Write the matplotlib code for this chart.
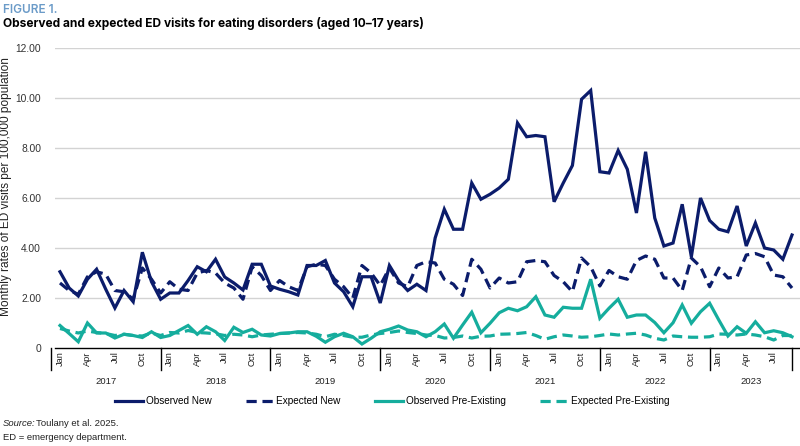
import matplotlib
matplotlib.use("Agg")
import matplotlib.pyplot as plt
import matplotlib.transforms as mtransforms
from matplotlib.lines import Line2D
import numpy as np

# monthly rates per 100,000, Jan 2017 - Sep 2023
obs_new = [3.05, 2.4, 2.08, 2.75, 3.15, 2.35, 1.6, 2.3, 1.85, 3.83, 2.65, 1.95,
           2.2, 2.2, 2.7, 3.25, 3.05, 3.55, 2.84, 2.6, 2.32, 3.35, 3.35, 2.48,
           2.35, 2.25, 2.12, 3.3, 3.3, 3.5, 2.6, 2.25, 1.65, 2.85, 2.85, 1.8,
           3.3, 2.7, 2.3, 2.55, 2.3, 4.4, 5.55, 4.75, 4.75, 6.6, 5.95, 6.15,
           6.4, 6.75, 9.0, 8.45, 8.5, 8.45, 5.85, 6.6, 7.3, 9.95, 10.3, 7.05,
           7.0, 7.9, 7.15, 5.4, 7.85, 5.2, 4.08, 4.2, 5.75, 3.65, 6.0, 5.1,
           4.75, 4.65, 5.68, 4.08, 5.0, 4.0, 3.92, 3.55, 4.52]
exp_new = [2.6, 2.3, 2.15, 2.85, 3.05, 2.95, 2.3, 2.25, 1.95, 3.2, 2.75, 2.2,
           2.65, 2.35, 2.3, 3.0, 3.1, 3.0, 2.6, 2.4, 1.95, 3.25, 2.9, 2.3,
           2.7, 2.45, 2.3, 3.25, 3.35, 3.3, 2.75, 2.45, 2.0, 3.3, 3.0, 2.5,
           3.2, 2.6, 2.45, 3.3, 3.45, 3.4, 2.75, 2.55, 2.1, 3.55, 3.15, 2.4,
           2.8, 2.6, 2.65, 3.45, 3.5, 3.45, 2.9, 2.65, 2.25, 3.6, 3.25, 2.48,
           3.1, 2.85, 2.75, 3.5, 3.68, 3.55, 2.8, 2.8, 2.3, 3.6, 3.25, 2.45,
           3.2, 2.8, 2.85, 3.72, 3.78, 3.65, 2.92, 2.85, 2.4]
obs_pre = [0.9, 0.58, 0.25, 1.0, 0.6, 0.6, 0.4, 0.55, 0.5, 0.42, 0.65, 0.42,
           0.5, 0.7, 0.9, 0.55, 0.85, 0.65, 0.3, 0.83, 0.62, 0.75, 0.52, 0.48,
           0.58, 0.6, 0.65, 0.65, 0.47, 0.23, 0.45, 0.59, 0.45, 0.16, 0.39, 0.65,
           0.75, 0.88, 0.72, 0.65, 0.45, 0.65, 0.96, 0.39, 0.92, 1.43, 0.61, 0.99,
           1.41, 1.59, 1.49, 1.65, 2.05, 1.32, 1.23, 1.63, 1.59, 1.59, 2.75, 1.19,
           1.59, 1.95, 1.23, 1.32, 1.32, 1.02, 0.61, 1.01, 1.72, 0.99, 1.45, 1.79,
           1.12, 0.48, 0.85, 0.59, 1.05, 0.61, 0.69, 0.61, 0.45]
exp_pre = [0.78, 0.68, 0.6, 0.68, 0.62, 0.58, 0.5, 0.55, 0.5, 0.48, 0.6, 0.5,
           0.62, 0.6, 0.7, 0.62, 0.6, 0.57, 0.5, 0.55, 0.52, 0.45, 0.52, 0.55,
           0.58, 0.6, 0.62, 0.6, 0.55, 0.45, 0.55, 0.5, 0.43, 0.43, 0.52, 0.58,
           0.62, 0.68, 0.62, 0.58, 0.52, 0.5, 0.4, 0.42, 0.48, 0.4, 0.47, 0.48,
           0.55, 0.56, 0.58, 0.62, 0.5, 0.35, 0.45, 0.52, 0.48, 0.43, 0.45, 0.5,
           0.56, 0.52, 0.56, 0.59, 0.52, 0.39, 0.32, 0.48, 0.45, 0.43, 0.43, 0.45,
           0.56, 0.55, 0.52, 0.56, 0.52, 0.45, 0.32, 0.5, 0.5]

years = ["2017", "2018", "2019", "2020", "2021", "2022", "2023"]
month_labels = ["Jan", "Apr", "Jul", "Oct"]

navy = "#0b1c6b"
teal = "#15ad9d"

fig = plt.figure(figsize=(8, 4.46), dpi=100)
W, H = 800, 446
ax = fig.add_axes([55 / W, 1 - 348 / H, 745 / W, 300 / H])

x = np.arange(len(obs_new))
lw = 2.3
ax.plot(x, obs_new, color=navy, lw=lw, solid_joinstyle="miter")
ax.plot(x, exp_new, color=navy, lw=lw, dashes=(3.2, 1.8))
ax.plot(x, obs_pre, color=teal, lw=lw, solid_joinstyle="miter")
ax.plot(x, exp_pre, color=teal, lw=lw, dashes=(3.2, 1.8))

ax.set_ylim(0, 12)
ax.set_xlim(-0.546, 80.874)
ax.set_yticks(np.arange(0, 13, 2))
ax.set_yticklabels(["0"] + ["%.2f" % v for v in range(2, 13, 2)], fontsize=7.4, color="#333333",
                   family="Liberation Sans")
ax.tick_params(axis="y", length=0, pad=10)
ax.set_xticks([])
for v in range(2, 13, 2):
    ax.axhline(v, color="#d3d3d3", lw=1, zorder=0)
for s in ["top", "right", "left"]:
    ax.spines[s].set_visible(False)
ax.spines["bottom"].set_color("black")
ax.spines["bottom"].set_linewidth(1)

ax.set_ylabel("Monthly rates of ED visits per 100,000 population", fontsize=8.6,
              family="Liberation Sans", color="#222222")
ax.yaxis.set_label_coords(-43 / 745, (348 - 187) / 300)

# two-level category axis
trans = mtransforms.blended_transform_factory(ax.transData, ax.transAxes)
n = len(obs_new)
for i in range(0, n, 3):
    ax.text(i, -0.012, month_labels[(i % 12) // 3], transform=trans, rotation=90,
            ha="center", va="top", fontsize=6.7, family="Liberation Sans", color="#222222")
dividers = [12 * k - 1 for k in range(7)] + [n - 1]
for d in dividers:
    ax.plot([d, d], [0, -0.073], transform=trans, color="black", lw=1, clip_on=False)
for k, yr in enumerate(years):
    mid = (dividers[k] + dividers[k + 1]) / 2
    ax.text(mid, -0.113, yr, transform=trans, ha="center", va="center",
            fontsize=6.8, family="Liberation Sans", color="#222222")

handles = [Line2D([], [], color=navy, lw=lw),
           Line2D([], [], color=navy, lw=lw, dashes=(3.2, 1.8)),
           Line2D([], [], color=teal, lw=lw),
           Line2D([], [], color=teal, lw=lw, dashes=(3.2, 1.8))]
names = ["Observed New", "Expected New", "Observed Pre-Existing", "Expected Pre-Existing"]
fig.legend(handles, names, loc="center", bbox_to_anchor=(0.49, 1 - 401 / H), ncol=4,
           frameon=False, handlelength=2.8, handletextpad=0.3, columnspacing=3.4,
           prop={"family": "Liberation Sans", "size": 7.2})

fig.text(3 / W, 1 - 10 / H, "FIGURE 1.", fontsize=8.5, color="#6b9bc8", weight="semibold",
         family="Inter", va="center", ha="left")
fig.text(3 / W, 1 - 23 / H, "Observed and expected ED visits for eating disorders (aged 10\u201317 years)",
         fontsize=8.6, color="black", weight="bold", family="Inter", va="center", ha="left")

fig.text(3 / W, 1 - 424 / H, "Source:", fontsize=6.8, style="italic", family="Liberation Sans",
         color="#222222", va="center")
fig.text(36 / W, 1 - 424 / H, "Toulany et al. 2025.", fontsize=6.8, family="Liberation Sans",
         color="#222222", va="center")
fig.text(3 / W, 1 - 438 / H, "ED = emergency department.", fontsize=6.8, family="Liberation Sans",
         color="#222222", va="center")

fig.savefig("out.png", dpi=100)
